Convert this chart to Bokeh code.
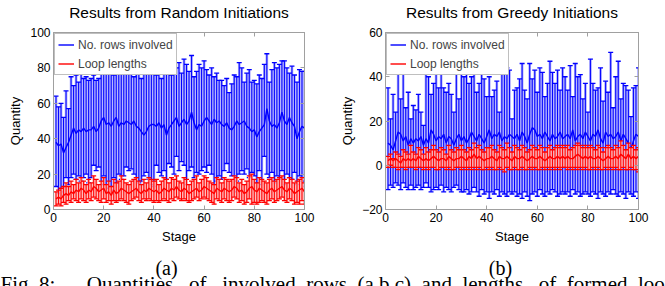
from bokeh.plotting import figure
from bokeh.layouts import column, row
from bokeh.models import Label, LinearAxis, Range1d, FixedTicker, Legend, LegendItem
from bokeh.embed import file_html
from bokeh.resources import INLINE

stage = list(range(1, 101))

# ---- Panel (a): Random initiations ----
a_rows_mean = [38, 36, 37, 32, 35, 38, 42, 46, 43, 45,
               44, 46, 44, 45, 45, 47, 44, 46, 50, 52,
               48, 49, 47, 50, 52, 47, 49, 48, 50, 49,
               48, 50, 47, 46, 44, 42, 44, 47, 48, 48,
               47, 49, 46, 48, 42, 46, 48, 50, 52, 47,
               49, 51, 48, 50, 55, 49, 45, 48, 47, 50,
               52, 50, 48, 51, 49, 50, 48, 47, 49, 46,
               45, 47, 50, 48, 49, 50, 47, 46, 44, 45,
               41, 44, 46, 48, 57, 50, 47, 48, 46, 49,
               55, 50, 48, 52, 49, 47, 40, 44, 47, 46]
a_rows_hi = [64, 58, 60, 52, 67, 57, 75, 70, 76, 72,
             77, 74, 75, 73, 74, 76, 73, 74, 78, 84,
             82, 79, 80, 76, 83, 80, 85, 79, 81, 78,
             80, 75, 82, 77, 74, 84, 79, 83, 78, 80,
             76, 80, 74, 85, 78, 82, 76, 84, 80, 83,
             77, 85, 82, 78, 87, 75, 78, 82, 80, 84,
             79, 76, 80, 75, 77, 73, 73, 70, 74, 66,
             71, 76, 75, 83, 80, 72, 77, 79, 72, 73,
             71, 76, 74, 82, 88, 72, 79, 83, 80, 82,
             84, 84, 80, 77, 81, 76, 72, 79, 78, 78]
a_rows_lo = [13, 9, 10, 8, 18, 14, 18, 20, 17, 19,
             16, 18, 20, 15, 18, 25, 22, 24, 14, 19,
             12, 10, 11, 18, 15, 20, 17, 19, 24, 22,
             23, 20, 18, 15, 16, 19, 21, 17, 14, 13,
             25, 21, 19, 22, 17, 26, 24, 20, 30, 22,
             27, 25, 14, 22, 24, 18, 21, 20, 22, 24,
             21, 25, 20, 14, 16, 19, 17, 22, 26, 21,
             19, 10, 16, 20, 22, 20, 23, 18, 21, 19,
             15, 22, 14, 30, 20, 18, 21, 15, 19, 17,
             22, 14, 20, 18, 17, 21, 14, 19, 16, 13]
a_loop_mean = [6, 7, 6, 8, 9, 8, 10, 9, 11, 10,
               12, 11, 9, 11, 10, 13, 12, 10, 11, 12,
               9, 10, 8, 11, 9, 10, 12, 11, 10, 9,
               10, 11, 12, 10, 9, 11, 10, 12, 11, 10,
               11, 9, 10, 12, 11, 10, 12, 11, 13, 11,
               10, 12, 11, 9, 10, 11, 12, 10, 11, 13,
               12, 11, 10, 9, 12, 11, 10, 12, 11, 10,
               11, 13, 12, 10, 11, 9, 10, 12, 13, 11,
               10, 12, 11, 10, 9, 11, 12, 10, 11, 12,
               13, 11, 10, 12, 11, 9, 10, 11, 12, 10]
a_loop_hi = [10, 11, 12, 13, 15, 13, 16, 14, 17, 15,
             18, 16, 14, 17, 15, 19, 17, 14, 16, 18,
             14, 16, 13, 17, 15, 16, 19, 17, 15, 14,
             16, 17, 18, 16, 14, 17, 15, 18, 17, 16,
             17, 14, 16, 18, 17, 15, 18, 17, 19, 16,
             15, 18, 17, 14, 16, 17, 19, 15, 17, 19,
             18, 16, 15, 14, 18, 17, 15, 18, 17, 16,
             17, 19, 18, 15, 17, 14, 16, 19, 20, 17,
             15, 18, 17, 16, 15, 17, 18, 16, 17, 18,
             19, 17, 15, 18, 17, 15, 16, 17, 18, 15]
a_loop_lo = [2, 3, 2, 4, 3, 5, 4, 6, 5, 4,
             6, 5, 4, 6, 5, 7, 6, 5, 4, 6,
             4, 5, 3, 5, 4, 5, 6, 5, 4, 3,
             5, 6, 7, 5, 4, 6, 5, 6, 5, 4,
             5, 4, 5, 6, 5, 4, 6, 5, 7, 6,
             5, 6, 5, 4, 5, 6, 7, 5, 6, 7,
             6, 5, 4, 3, 6, 5, 4, 6, 5, 4,
             5, 7, 6, 4, 5, 3, 4, 6, 3, 4,
             3, 4, 5, 4, 3, 5, 6, 4, 5, 6,
             7, 5, 4, 6, 5, 3, 4, 3, 5, 3]

# ---- Panel (b): Greedy initiations ----
b_rows_mean = [10, 9, 7, 11, 15, 14, 11, 13, 9, 12,
               10, 12, 11, 13, 9, 12, 10, 16, 14, 11,
               13, 12, 14, 10, 13, 12, 9, 12, 14, 11,
               13, 10, 12, 15, 13, 11, 14, 12, 10, 13,
               16, 12, 14, 13, 15, 11, 13, 12, 14, 13,
               12, 14, 11, 15, 13, 10, 14, 17, 16, 13,
               14, 12, 15, 13, 11, 14, 12, 13, 15, 12,
               13, 14, 12, 16, 11, 13, 14, 12, 15, 13,
               11, 14, 13, 16, 12, 10, 15, 13, 14, 12,
               13, 15, 11, 14, 12, 10, 7, 11, 14, 13]
b_rows_hi = [35, 21, 32, 24, 44, 30, 47, 26, 33, 21,
             27, 25, 32, 24, 18, 46, 40, 32, 37, 42,
             35, 42, 35, 33, 37, 32, 24, 42, 30, 46,
             40, 42, 37, 40, 46, 33, 37, 43, 39, 31,
             40, 31, 34, 38, 24, 47, 44, 44, 43, 21,
             34, 35, 39, 46, 34, 30, 46, 39, 43, 33,
             44, 42, 31, 37, 47, 42, 37, 43, 34, 44,
             40, 34, 45, 31, 46, 40, 41, 30, 37, 24,
             48, 37, 34, 35, 44, 29, 38, 33, 51, 26,
             40, 47, 30, 37, 36, 34, 22, 35, 36, 44]
b_rows_lo = [-11, -9, -10, -8, -9, -11, -8, -10, -11, -9,
             -11, -10, -9, -11, -10, -8, -10, -12, -11, -10,
             -11, -9, -12, -10, -11, -12, -10, -9, -11, -12,
             -12, -11, -13, -12, -10, -12, -14, -11, -13, -12,
             -15, -12, -13, -11, -14, -12, -13, -14, -12, -13,
             -12, -14, -13, -15, -12, -14, -16, -13, -12, -14,
             -11, -13, -14, -12, -13, -11, -12, -14, -13, -12,
             -13, -12, -14, -11, -13, -12, -14, -13, -12, -13,
             -14, -12, -13, -15, -12, -13, -14, -12, -13, -11,
             -13, -14, -12, -13, -15, -12, -13, -14, -12, -15]
b_loop_mean = [2, 3, 2, 3, 2, 1, 3, 2, 3, 2,
               3, 2, 4, 3, 2, 3, 2, 3, 4, 3,
               2, 3, 3, 2, 4, 3, 2, 3, 3, 4,
               3, 2, 4, 3, 5, 3, 4, 3, 2, 3,
               3, 4, 3, 2, 4, 3, 3, 4, 3, 2,
               4, 3, 3, 4, 3, 2, 3, 4, 3, 3,
               4, 3, 2, 3, 4, 3, 3, 4, 3, 4,
               3, 4, 3, 3, 4, 5, 4, 3, 4, 3,
               4, 3, 3, 4, 3, 2, 3, 4, 3, 3,
               4, 3, 5, 4, 3, 5, 3, 4, 3, 4]
b_loop_hi = [4, 5, 3, 6, 5, 4, 7, 6, 5, 9,
             6, 5, 8, 7, 5, 8, 6, 7, 9, 7,
             6, 8, 7, 5, 9, 7, 6, 8, 7, 9,
             7, 6, 8, 7, 10, 8, 9, 7, 6, 8,
             8, 9, 7, 6, 9, 8, 7, 10, 8, 6,
             9, 8, 7, 9, 8, 6, 7, 9, 8, 7,
             9, 8, 6, 8, 9, 7, 8, 9, 8, 9,
             8, 9, 7, 8, 9, 10, 9, 8, 9, 8,
             9, 8, 7, 9, 8, 6, 8, 9, 8, 7,
             9, 8, 11, 9, 7, 10, 8, 9, 7, 8]
b_loop_lo = [-1, 0, -1, -1, -2, -1, -1, -2, -1, -1,
             -1, -2, -1, -1, -2, -1, -2, -1, -1, -2,
             -2, -1, -1, -2, -1, -2, -2, -1, -1, -2,
             -1, -2, -1, -2, -1, -2, -1, -2, -2, -1,
             -2, -1, -2, -2, -1, -2, -3, -1, -2, -2,
             -1, -2, -2, -1, -2, -2, -1, -2, -1, -2,
             -2, -1, -2, -1, -2, -1, -2, -1, -2, -1,
             -1, -2, -1, -2, -1, -2, -1, -2, -1, -2,
             -2, -1, -2, -1, -2, -2, -1, -2, -1, -2,
             -1, -2, -2, -1, -2, -2, -1, -2, -2, -3]

x_ticks = [0, 20, 40, 60, 80, 100]
a_yticks = [0, 20, 40, 60, 80, 100]
b_yticks = [-20, 0, 20, 40, 60]
legend_labels = ["No. rows involved", "Loop lengths"]
NB = "\u00a0"
caption = ("Fig." + NB + "8:" + NB * 6 + "Quantities" + NB * 2 + " of" + NB * 2 + " involved" + NB + " rows"
           + NB + " (a,b,c)" + NB + " and" + NB + " lengths" + NB * 2 + " of" + NB + " formed" + NB + " loops")

SANS = "Liberation Sans"
SERIF = "Liberation Serif"
GRAY = "#a0a0a0"
FRAME_H = 178
FIG_H = 250
TOP = 31


def errorbars(p, lo, hi, color, halo):
    p.segment(x0=stage, y0=lo, x1=stage, y1=hi, line_color=halo, line_width=2.6)
    p.segment(x0=stage, y0=lo, x1=stage, y1=hi, line_color=color, line_width=1.0)
    p.scatter(x=stage, y=hi, marker="dash", size=5, line_color=color, line_width=1.3)
    p.scatter(x=stage, y=lo, marker="dash", size=5, line_color=color, line_width=1.3)


def style_axis(ax, show_labels):
    ax.axis_line_color = GRAY
    ax.major_tick_line_color = GRAY
    ax.major_tick_in = 4
    ax.major_tick_out = 0
    ax.minor_tick_line_color = None
    ax.major_label_text_font = SANS
    ax.major_label_text_font_size = "12px" if show_labels else "0px"
    ax.major_label_text_color = "black" if show_labels else None
    ax.axis_label_text_font = SANS
    ax.axis_label_text_font_size = "13px"
    ax.axis_label_text_font_style = "normal"
    ax.axis_label_text_color = "black"


def make_panel(title, yr, yticks, rm, rlo, rhi, lm, llo, lhi, width, bl, br):
    p = figure(width=width, height=FIG_H, x_range=Range1d(0, 100), y_range=Range1d(*yr),
               output_backend="svg", toolbar_location=None,
               min_border_left=bl, min_border_right=br, min_border_top=TOP,
               min_border_bottom=FIG_H - TOP - FRAME_H)
    p.grid.visible = False
    p.outline_line_color = GRAY
    p.background_fill_color = "white"
    p.border_fill_color = "white"

    errorbars(p, rlo, rhi, "#0000ff", "#a6a6ff")
    bline = p.line(stage, rm, line_color="#0000ff", line_width=1.4)
    errorbars(p, llo, lhi, "#ff0000", "#ffadad")
    rline = p.line(stage, lm, line_color="#ff0000", line_width=1.4)

    for ax in p.xaxis:
        ax.ticker = FixedTicker(ticks=x_ticks)
        ax.axis_label = "Stage"
        ax.major_label_standoff = 3
        ax.axis_label_standoff = 4
        style_axis(ax, True)
    for ax in p.yaxis:
        ax.ticker = FixedTicker(ticks=yticks)
        ax.axis_label = "Quantity"
        ax.major_label_standoff = 3
        ax.axis_label_standoff = 4
        style_axis(ax, True)

    # top axis: inward ticks, its label serves as the panel title
    top_ax = LinearAxis(ticker=FixedTicker(ticks=x_ticks), axis_label=title)
    style_axis(top_ax, False)
    top_ax.major_label_standoff = 0
    top_ax.axis_label_standoff = 12
    top_ax.axis_label_text_font_size = "15.5px"
    right_ax = LinearAxis(ticker=FixedTicker(ticks=yticks))
    style_axis(right_ax, False)
    p.add_layout(top_ax, "above")
    p.add_layout(right_ax, "right")

    leg = Legend(items=[LegendItem(label=legend_labels[0], renderers=[bline]),
                        LegendItem(label=legend_labels[1], renderers=[rline])],
                 location="top_left", margin=1, padding=3, spacing=4,
                 label_height=15, glyph_height=15, glyph_width=16, label_standoff=4,
                 label_text_font=SANS, label_text_font_size="12px",
                 border_line_color="#808080", border_line_width=1,
                 background_fill_color="white", background_fill_alpha=1.0)
    p.add_layout(leg)
    return p


pa = make_panel("Results from Random Initiations", (0, 100), a_yticks,
                a_rows_mean, a_rows_lo, a_rows_hi, a_loop_mean, a_loop_lo, a_loop_hi,
                width=332, bl=53, br=28)
pb = make_panel("Results from Greedy Initiations", (-20, 60), b_yticks,
                b_rows_mean, b_rows_lo, b_rows_hi, b_loop_mean, b_loop_lo, b_loop_hi,
                width=333, bl=53, br=27)

CAP_H = 286 - FIG_H
pc = figure(width=665, height=CAP_H, x_range=Range1d(0, 1), y_range=Range1d(0, 1),
            output_backend="svg", toolbar_location=None, min_border=0,
            x_axis_location=None, y_axis_location=None)
pc.grid.visible = False
pc.outline_line_color = None
for txt, xpos in (("(a)", 166), ("(b)", 500)):
    pc.add_layout(Label(x=xpos, y=CAP_H - 17, x_units="screen", y_units="screen", text=txt,
                        text_align="center", text_baseline="middle",
                        text_font=SERIF, text_font_size="20px", text_color="black"))
pc.add_layout(Label(x=0, y=CAP_H - 33, x_units="screen", y_units="screen",
                    text=caption, text_align="left", text_baseline="middle",
                    text_font=SERIF, text_font_size="21px", text_color="black"))

layout = column(row(pa, pb, spacing=0), pc, spacing=0)
open("out.html", "w").write(file_html(layout, INLINE))
